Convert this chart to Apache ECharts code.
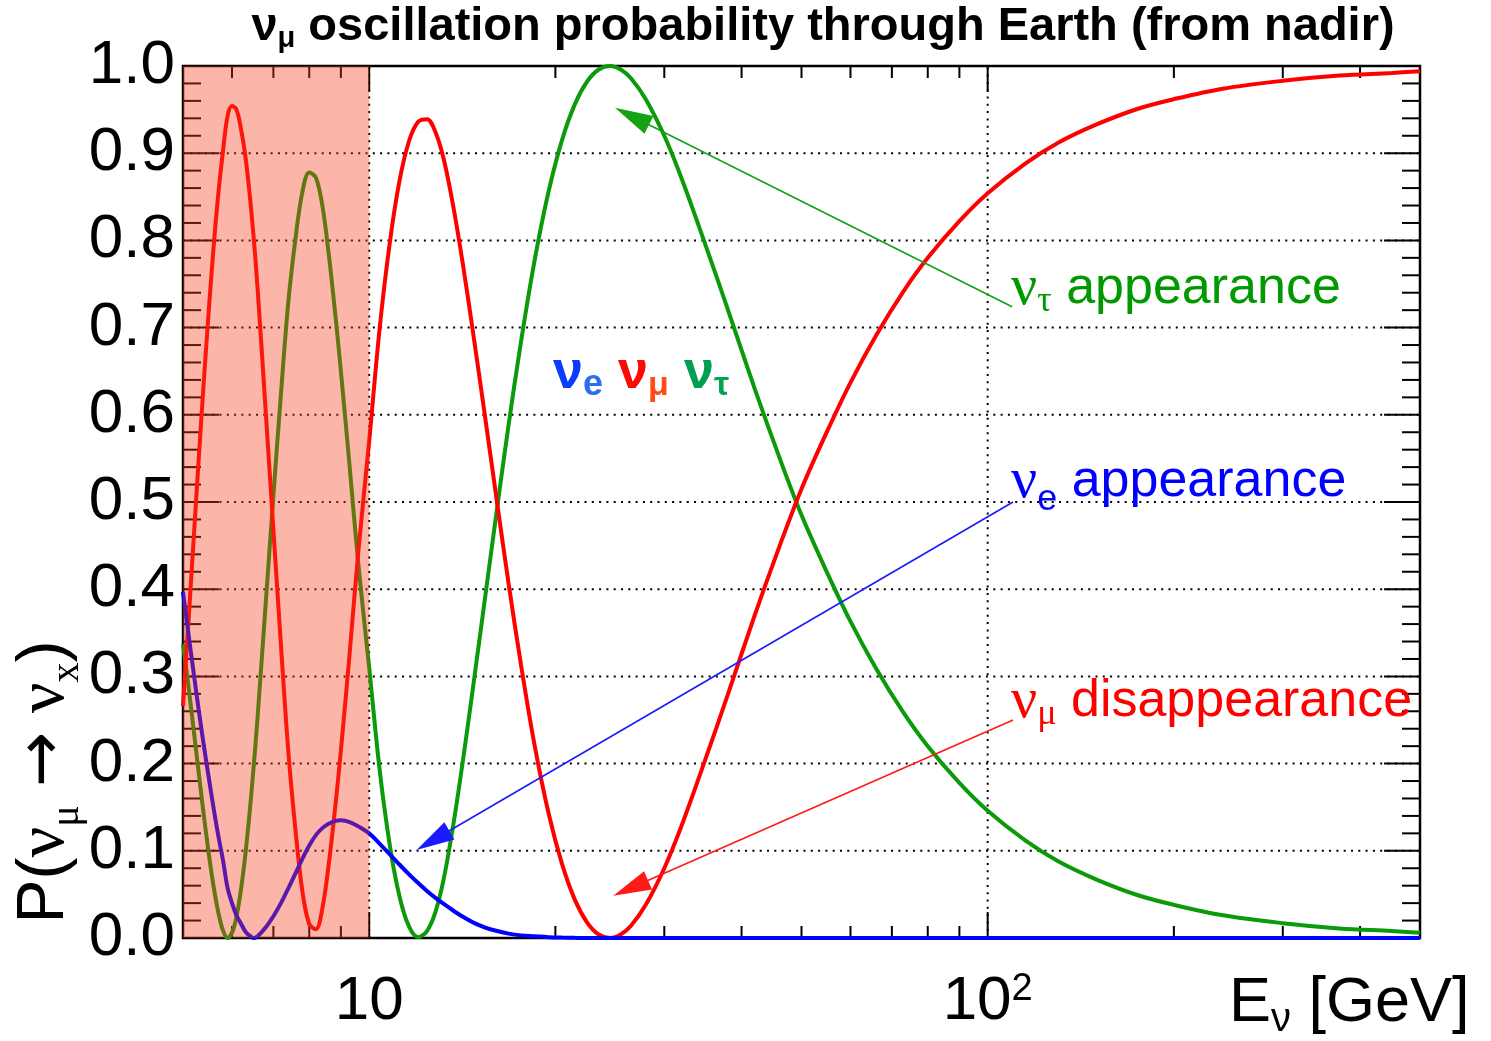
<!DOCTYPE html>
<html>
<head>
<meta charset="utf-8">
<title>Oscillation probability through Earth</title>
<script src="https://cdn.jsdelivr.net/npm/echarts@6.0.0/dist/echarts.min.js"></script>
<style>
  html, body { margin: 0; padding: 0; background: #ffffff; }
  #chart { width: 1491px; height: 1041px; }
</style>
</head>
<body>
<div id="chart"></div>
<script>
// Neutrino energy grid (GeV)
const energies = [
  5.0, 5.1, 5.2, 5.3, 5.4, 5.5, 5.6, 5.7, 5.8, 5.9,
  6.0, 6.1, 6.2, 6.3, 6.4, 6.5, 6.6, 6.8, 7.0, 7.2,
  7.4, 7.6, 7.8, 8.0, 8.2, 8.4, 8.6, 8.8, 9.0, 9.3,
  9.6, 10.0, 10.4, 10.8, 11.2, 11.6, 12.0, 12.4, 12.8, 13.2,
  13.7, 14.2, 14.8, 15.4, 16.1, 16.8, 17.6, 18.5, 19.5, 20.5,
  21.5, 22.5, 23.5, 24.5, 25.5, 26.5, 28, 30, 32, 35,
  38, 42, 46, 50, 55, 60, 66, 73, 80, 90,
  100, 115, 130, 150, 175, 200, 240, 300, 370, 450,
  500
];

// P(nu_mu -> nu_mu), survival probability
const probMuMu = [
  0.266, 0.360, 0.455, 0.548, 0.636, 0.717, 0.790, 0.852, 0.901, 0.942,
  0.954, 0.950, 0.929, 0.899, 0.857, 0.806, 0.745, 0.606, 0.468, 0.336,
  0.214, 0.124, 0.053, 0.016, 0.010, 0.034, 0.084, 0.146, 0.215, 0.327,
  0.442, 0.570, 0.700, 0.798, 0.869, 0.914, 0.936, 0.939, 0.924, 0.893,
  0.836, 0.769, 0.683, 0.597, 0.499, 0.407, 0.313, 0.222, 0.143, 0.085,
  0.044, 0.018, 0.004, 0.000, 0.004, 0.014, 0.038, 0.080, 0.129, 0.206,
  0.279, 0.370, 0.448, 0.515, 0.581, 0.637, 0.691, 0.741, 0.780, 0.822,
  0.854, 0.888, 0.912, 0.933, 0.951, 0.962, 0.974, 0.983, 0.989, 0.992,
  0.994
];

// P(nu_mu -> nu_tau), tau appearance
const probMuTau = [
  0.337, 0.290, 0.240, 0.190, 0.142, 0.098, 0.060, 0.030, 0.009, 0.000,
  0.006, 0.024, 0.054, 0.093, 0.140, 0.194, 0.253, 0.382, 0.507, 0.624,
  0.729, 0.802, 0.856, 0.878, 0.872, 0.840, 0.785, 0.720, 0.650, 0.540,
  0.430, 0.310, 0.192, 0.106, 0.047, 0.013, 0.001, 0.008, 0.030, 0.068,
  0.133, 0.207, 0.300, 0.391, 0.493, 0.588, 0.684, 0.776, 0.856, 0.915,
  0.956, 0.982, 0.996, 1.000, 0.996, 0.986, 0.962, 0.920, 0.871, 0.794,
  0.721, 0.630, 0.552, 0.485, 0.419, 0.363, 0.309, 0.259, 0.220, 0.178,
  0.146, 0.112, 0.088, 0.067, 0.049, 0.038, 0.026, 0.017, 0.011, 0.008,
  0.006
];

// P(nu_mu -> nu_e), electron appearance
const probMuE = [
  0.397, 0.350, 0.305, 0.262, 0.222, 0.185, 0.150, 0.118, 0.090, 0.058,
  0.040, 0.026, 0.017, 0.008, 0.003, 0.000, 0.002, 0.012, 0.025, 0.040,
  0.057, 0.074, 0.091, 0.106, 0.118, 0.126, 0.131, 0.134, 0.135, 0.133,
  0.128, 0.120, 0.108, 0.096, 0.084, 0.073, 0.063, 0.054, 0.046, 0.039,
  0.031, 0.024, 0.017, 0.012, 0.008, 0.005, 0.003, 0.002, 0.001, 0.0005,
  0.0002, 0.000, 0.000, 0.000, 0.000, 0.000, 0.000, 0.000, 0.000, 0.000,
  0.000, 0.000, 0.000, 0.000, 0.000, 0.000, 0.000, 0.000, 0.000, 0.000,
  0.000, 0.000, 0.000, 0.000, 0.000, 0.000, 0.000, 0.000, 0.000, 0.000,
  0.000
];

// Axis ticks and labels
const xLabelTicks = [10, 100];
const xMinorTicks = [6, 7, 8, 9, 20, 30, 40, 50, 60, 70, 80, 90, 200, 300, 400];
const yMajorTicks = [0.1, 0.2, 0.3, 0.4, 0.5, 0.6, 0.7, 0.8, 0.9];
const yMinorTicks = [
  0.02, 0.04, 0.06, 0.08, 0.12, 0.14, 0.16, 0.18, 0.22, 0.24, 0.26, 0.28,
  0.32, 0.34, 0.36, 0.38, 0.42, 0.44, 0.46, 0.48, 0.52, 0.54, 0.56, 0.58,
  0.62, 0.64, 0.66, 0.68, 0.72, 0.74, 0.76, 0.78, 0.82, 0.84, 0.86, 0.88,
  0.92, 0.94, 0.96, 0.98
];
const yTickLabels = ['0.0', '0.1', '0.2', '0.3', '0.4', '0.5', '0.6', '0.7', '0.8', '0.9', '1.0'];

// Highlighted low-energy band (GeV)
const shadedBand = [5, 10];

// Annotation arrows: from the label towards the curve, [E, P]
const arrowNotes = [
  { from: [109.5, 0.724], to: [24.97, 0.952], color: '#13a313' },
  { from: [109.9, 0.500], to: [11.93, 0.101], color: '#1a1aff' },
  { from: [109.9, 0.250], to: [24.81, 0.0485], color: '#ff1a1a' }
];

const X_MIN = 5, X_MAX = 500, Y_MIN = 0, Y_MAX = 1;
const sans = '"Liberation Sans", Arial, Helvetica, sans-serif';
const serif = '"Liberation Serif", "Times New Roman", serif';
const arrowFont = '"DejaVu Sans", sans-serif';

const COLOR_MUMU = '#ff0000';
const COLOR_MUTAU = '#0a9a0a';
const COLOR_MUE = '#0000ff';

function lineEl(a, b, style) {
  return { type: 'line', shape: { x1: a[0], y1: a[1], x2: b[0], y2: b[1] }, style: style };
}

const tickStyle = { stroke: '#000', lineWidth: 2 };
const dotStyle = { stroke: '#000', lineWidth: 2, lineDash: [2, 5.3] };

// ticks on bottom and top edges
function xTickSeries(values, len) {
  return {
    type: 'custom', z: 1, silent: true, clip: false,
    data: values.map(v => [v, Y_MIN]),
    renderItem(params, api) {
      const v = api.value(0);
      const b = api.coord([v, Y_MIN]);
      const t = api.coord([v, Y_MAX]);
      return { type: 'group', children: [
        lineEl(b, [b[0], b[1] - len], tickStyle),
        lineEl(t, [t[0], t[1] + len], tickStyle)
      ] };
    }
  };
}

// ticks on left and right edges
function yTickSeries(values, len) {
  return {
    type: 'custom', z: 1, silent: true, clip: false,
    data: values.map(v => [X_MIN, v]),
    renderItem(params, api) {
      const v = api.value(1);
      const l = api.coord([X_MIN, v]);
      const r = api.coord([X_MAX, v]);
      return { type: 'group', children: [
        lineEl(l, [l[0] + len, l[1]], tickStyle),
        lineEl(r, [r[0] - len, r[1]], tickStyle)
      ] };
    }
  };
}

const gridSeriesY = {
  type: 'custom', z: 1, silent: true, clip: false,
  data: yMajorTicks.map(v => [X_MIN, v]),
  renderItem(params, api) {
    const v = api.value(1);
    return lineEl(api.coord([X_MIN, v]), api.coord([X_MAX, v]), dotStyle);
  }
};

const gridSeriesX = {
  type: 'custom', z: 1, silent: true, clip: false,
  data: xLabelTicks.map(v => [v, Y_MIN]),
  renderItem(params, api) {
    const v = api.value(0);
    return lineEl(api.coord([v, Y_MIN]), api.coord([v, Y_MAX]), dotStyle);
  }
};

function curve(name, values, color) {
  return {
    type: 'line', name: name, z: 3, silent: true, clip: false,
    data: energies.map((e, i) => [e, values[i]]),
    showSymbol: false, symbol: 'none',
    smooth: 0.35,
    lineStyle: { color: color, width: 4 },
    itemStyle: { color: color },
    emphasis: { disabled: true }
  };
}

const bandSeries = {
  type: 'custom', z: 4, silent: true, clip: false,
  data: [[shadedBand[0], shadedBand[1]]],
  renderItem(params, api) {
    const a = api.coord([api.value(0), Y_MAX]);
    const b = api.coord([api.value(1), Y_MIN]);
    return {
      type: 'rect',
      shape: { x: a[0], y: a[1], width: b[0] - a[0], height: b[1] - a[1] },
      style: { fill: 'rgba(245,60,30,0.38)' }
    };
  }
};

const arrowSeries = {
  type: 'custom', z: 5, silent: true, clip: false,
  data: arrowNotes.map(n => [n.from[0], n.from[1], n.to[0], n.to[1]]),
  renderItem(params, api) {
    const color = arrowNotes[params.dataIndex].color;
    const p0 = api.coord([api.value(0), api.value(1)]);
    const p1 = api.coord([api.value(2), api.value(3)]);
    const dx = p1[0] - p0[0], dy = p1[1] - p0[1];
    const len = Math.hypot(dx, dy);
    const ux = dx / len, uy = dy / len;
    const headLen = 38, headHalf = 10;
    const bx = p1[0] - ux * headLen, by = p1[1] - uy * headLen;
    return { type: 'group', children: [
      lineEl(p0, [bx + ux * 4, by + uy * 4], { stroke: color, lineWidth: 1.6 }),
      {
        type: 'polygon',
        shape: { points: [
          [p1[0], p1[1]],
          [bx - uy * headHalf, by + ux * headHalf],
          [bx + uy * headHalf, by - ux * headHalf]
        ] },
        style: { fill: color }
      }
    ] };
  }
};

// rich text with a main line and lowered subscripts
function subText(x, y, parts, sizes, color, align, rotation) {
  return {
    type: 'text', x: x, y: y, z: 20, rotation: rotation || 0, silent: true,
    style: {
      text: parts.map(p => '{' + p[0] + '|' + p[1] + '}').join(''),
      align: align || 'left', verticalAlign: 'middle',
      rich: {
        m: { fontFamily: sans, fontSize: sizes.main, lineHeight: sizes.lh, fill: color },
        g: { fontFamily: serif, fontSize: sizes.greek, lineHeight: sizes.lh, fill: color },
        a: { fontFamily: arrowFont, fontSize: sizes.main, lineHeight: sizes.lh, fill: color },
        s: { fontFamily: serif, fontSize: sizes.sub, lineHeight: sizes.slh, verticalAlign: 'bottom', fill: color },
        ss: { fontFamily: sans, fontSize: sizes.sub, lineHeight: sizes.slh, verticalAlign: 'bottom', fill: color }
      }
    }
  };
}

const graphics = [
  // title
  {
    type: 'text', x: 823, y: 27, z: 20, silent: true,
    style: {
      text: '{n|ν}{s|μ}{n| oscillation probability through Earth (from nadir)}',
      align: 'center', verticalAlign: 'middle',
      rich: {
        n: { fontFamily: sans, fontWeight: 'bold', fontSize: 47, lineHeight: 52, fill: '#000' },
        s: { fontFamily: sans, fontWeight: 'bold', fontSize: 29, lineHeight: 25, verticalAlign: 'bottom', fill: '#000' }
      }
    }
  },
  // y axis name
  subText(45, 782,
    [['m', 'P('], ['g', 'ν'], ['s', 'μ'], ['m', ' '], ['a', '→'], ['m', ' '], ['g', 'ν'], ['s', 'x'], ['m', ')']],
    { main: 66, greek: 68, sub: 40, lh: 84, slh: 28 }, '#000', 'center', Math.PI / 2),
  // x axis name
  subText(1229, 1004, [['m', 'E'], ['ss', 'ν'], ['m', ' [GeV]']],
    { main: 63, greek: 63, sub: 40, lh: 72, slh: 20 }, '#000', 'left'),
  // curve annotations
  subText(1011, 289, [['g', 'ν'], ['s', 'τ'], ['m', ' appearance']],
    { main: 52, greek: 58, sub: 36, lh: 62, slh: 28 }, '#009900', 'left'),
  subText(1011, 482, [['g', 'ν'], ['ss', 'e'], ['m', ' appearance']],
    { main: 52, greek: 58, sub: 36, lh: 72, slh: 27 }, '#0000ff', 'left'),
  subText(1011, 702, [['g', 'ν'], ['s', 'μ'], ['m', ' disappearance']],
    { main: 52, greek: 58, sub: 36, lh: 62, slh: 28 }, '#ff0000', 'left'),
  // flavour key
  {
    type: 'text', x: 553, y: 373, z: 20, silent: true,
    style: {
      text: '{bn|ν}{bs|e}{sp| }{rn|ν}{rs|μ}{sp| }{gn|ν}{gs|τ}',
      align: 'left', verticalAlign: 'middle',
      rich: {
        bn: { fontFamily: sans, fontWeight: 'bold', fontSize: 54, lineHeight: 60, fill: '#0a3cff' },
        bs: { fontFamily: sans, fontWeight: 'bold', fontSize: 36, lineHeight: 26, verticalAlign: 'bottom', fill: '#2a6cf2' },
        rn: { fontFamily: sans, fontWeight: 'bold', fontSize: 54, lineHeight: 60, fill: '#ff0a00' },
        rs: { fontFamily: sans, fontWeight: 'bold', fontSize: 34, lineHeight: 26, verticalAlign: 'bottom', fill: '#ff4a1a' },
        gn: { fontFamily: sans, fontWeight: 'bold', fontSize: 54, lineHeight: 60, fill: '#00a050' },
        gs: { fontFamily: sans, fontWeight: 'bold', fontSize: 34, lineHeight: 26, verticalAlign: 'bottom', fill: '#00a552' },
        sp: { fontFamily: sans, fontWeight: 'bold', fontSize: 54, lineHeight: 60 }
      }
    }
  }
];

const chart = echarts.init(document.getElementById('chart'), null, { renderer: 'canvas' });

chart.setOption({
  animation: false,
  backgroundColor: '#ffffff',
  grid: {
    left: 183, right: 71, top: 66, bottom: 103,
    show: true, borderColor: '#000', borderWidth: 2.5, backgroundColor: 'transparent',
    containLabel: false, outerBoundsMode: 'none'
  },
  xAxis: {
    type: 'log', logBase: 10, min: X_MIN, max: X_MAX,
    axisLine: { show: false }, axisTick: { show: false },
    splitLine: { show: false }, minorTick: { show: false }, minorSplitLine: { show: false },
    axisLabel: {
      margin: 33,
      showMinLabel: false, showMaxLabel: false,
      formatter: function (v) {
        if (Math.abs(v - xLabelTicks[0]) < 1e-6) return '{a|10}';
        if (Math.abs(v - xLabelTicks[1]) < 1e-6) return '{a|10}{p|2}';
        return '';
      },
      rich: {
        a: { fontFamily: sans, fontSize: 62, lineHeight: 62, color: '#000' },
        p: { fontFamily: sans, fontSize: 38, lineHeight: 20, verticalAlign: 'top', color: '#000' }
      }
    }
  },
  yAxis: {
    type: 'value', min: Y_MIN, max: Y_MAX, interval: 0.1,
    axisLine: { show: false }, axisTick: { show: false },
    splitLine: { show: false },
    axisLabel: {
      margin: 8,
      fontFamily: sans, fontSize: 62, color: '#000',
      formatter: function (v) { return yTickLabels[Math.round(v * 10)]; }
    }
  },
  series: [
    gridSeriesY, gridSeriesX,
    xTickSeries(xLabelTicks, 26), xTickSeries(xMinorTicks, 12),
    yTickSeries(yMajorTicks, 36), yTickSeries(yMinorTicks, 18),
    curve('P(νμ→ντ)', probMuTau, COLOR_MUTAU),
    curve('P(νμ→νμ)', probMuMu, COLOR_MUMU),
    curve('P(νμ→νe)', probMuE, COLOR_MUE),
    bandSeries,
    arrowSeries
  ],
  graphic: graphics
});
</script>
</body>
</html>
